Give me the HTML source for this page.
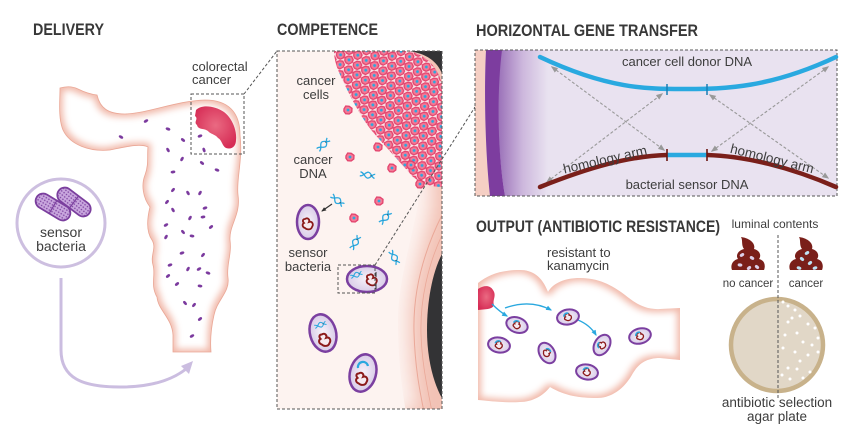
<!DOCTYPE html>
<html><head><meta charset="utf-8">
<style>
html,body{margin:0;padding:0;background:#fff;}
svg{display:block;}
text{font-family:"Liberation Sans",sans-serif;fill:#3d3d3d;}
.t{font-weight:bold;font-size:17px;fill:#383838;}
.l{font-size:13px;}
</style></head><body>
<svg width="851" height="438" viewBox="0 0 851 438" xmlns="http://www.w3.org/2000/svg">
<defs>
 <filter id="inner" x="-10%" y="-10%" width="120%" height="120%">
   <feMorphology operator="erode" radius="3"/>
   <feGaussianBlur stdDeviation="3.5"/>
 </filter>
 <filter id="soft" x="-20%" y="-20%" width="140%" height="140%">
   <feGaussianBlur stdDeviation="9"/>
 </filter>
 <clipPath id="c1"><path id="colon1" d="M60,88 Q70,85 78,89 Q88,94 97,95 C100,108 108,114 125,114 C150,113 175,101 205,100 C228,100 240,112 240,135 C243,160 236,180 238,195 C241,215 229,225 230,240 C232,255 226,265 228,278 C230,292 217,300 214,315 C211,328 210,340 211,352 L173,352 L173,335 C172,318 158,310 157,297 C150,285 156,275 153,265 C150,255 157,248 152,240 C145,230 148,215 150,207 C143,198 141,185 145,175 C149,165 147,155 148,147 C140,143 125,147 110,150 C90,152 70,145 63,130 C58,118 60,100 60,88 Z"/></clipPath>
 <clipPath id="c2"><path id="colon2" d="M478,283 C488,275 500,270 520,270 C532,270 542,276 548,292 C553,283 565,278 580,278 C598,278 612,285 625,295 C635,303 645,310 660,309 L680,308 L680,360 L660,358 C645,358 638,365 633,373 C625,388 612,398 597,398 C580,398 565,396 550,387 C543,396 532,402 520,402 C505,403 490,401 478,400 Z"/></clipPath>
 <clipPath id="cbox"><rect x="277" y="51" width="165" height="358"/></clipPath>
 <clipPath id="hbox"><rect x="475" y="50" width="362" height="146"/></clipPath>
 <radialGradient id="tum" cx="50%" cy="45%" r="60%">
   <stop offset="0" stop-color="#ea6a82"/><stop offset="1" stop-color="#d62c55"/>
 </radialGradient>
 <radialGradient id="bfill" cx="50%" cy="50%" r="55%">
   <stop offset="0" stop-color="#f7f3fa"/><stop offset="1" stop-color="#d6c8e6"/>
 </radialGradient>
 <linearGradient id="memb" x1="0" x2="1" y1="0" y2="0">
   <stop offset="0" stop-color="#9a70b8"/><stop offset="0.5" stop-color="#cdb8dd"/><stop offset="1" stop-color="#e9e2f0"/>
 </linearGradient>
 <pattern id="pdots" width="3" height="3" patternUnits="userSpaceOnUse">
   <rect width="3" height="3" fill="#c9a7de"/><circle cx="1.5" cy="1.5" r="0.8" fill="#7b3f9e"/>
 </pattern>
 <g id="cell">
   <path d="M-3.5,-1 L-2,-3.5 L1,-3.2 L3.5,-1.5 L3.3,1.8 L1,3.5 L-2,3.2 L-3.6,1 Z" fill="#f27a96" stroke="#e3436d" stroke-width="1.2"/>
   <circle r="1.3" fill="#2aa8df"/>
 </g>
 <g id="bcell">
   <path d="M-4,-1.2 L-2.3,-4 L1.2,-3.7 L4,-1.7 L3.8,2 L1.2,4 L-2.3,3.7 L-4.1,1.2 Z" fill="#f27a96" stroke="#e3436d" stroke-width="1.3"/>
   <circle r="1.4" fill="#2aa8df"/>
 </g>
 <pattern id="cells" width="20" height="17" patternUnits="userSpaceOnUse" patternTransform="rotate(-28)">
   <use href="#bcell" x="5" y="4.3"/>
   <use href="#bcell" x="15" y="4.3"/>
   <use href="#bcell" x="0" y="12.7"/>
   <use href="#bcell" x="10" y="12.7"/>
   <use href="#bcell" x="20" y="12.7"/>
 </pattern>
 <g id="dna" fill="none" stroke="#2aa8df" stroke-width="1.3">
   <path d="M-7,-2 C-3,-2 -2,3 1,3 C4,3 5,-2 8,-2"/>
   <path d="M-7,2 C-3,2 -2,-3 1,-3 C4,-3 5,2 8,2"/>
   <path d="M-3,0 L-3,0.1 M4,-0.5 L4,0.5" stroke="#333" stroke-width="1"/>
 </g>
 <path id="chrom" d="M-3,-5 C0,-7 2,-4 1,-2 C4,-3 6,0 4,3 C3,6 -1,6 -3,4 C-6,3 -6,0 -4,-1 C-6,-3 -5,-5 -3,-5 Z" fill="#f6eaf0" stroke="#8b1a1a" stroke-width="1.8"/>
 <g id="sbac">
   <ellipse rx="11" ry="7.5" fill="url(#bfill)" stroke="#7b3fa0" stroke-width="2"/>
   <path d="M-1.5,-3 C0,-4.5 2,-3 1.5,-1.5 C3.5,-1.5 4,1 2.5,2.5 C1.5,4 -1,4 -2.5,2.5 C-4,2 -4,0 -2.5,-0.5 C-3.5,-1.5 -2.5,-3 -1.5,-3 Z" fill="#f6eaf0" stroke="#8b1a1a" stroke-width="1.3"/>
   <path d="M-4,-1 A3.2,3.2 0 0 1 1,-3.5" fill="none" stroke="#2aa8df" stroke-width="1.5"/>
 </g>
 <marker id="ga" viewBox="0 0 10 10" refX="8" refY="5" markerWidth="7" markerHeight="7" orient="auto-start-reverse" markerUnits="userSpaceOnUse">
   <path d="M0,1 L10,5 L0,9 Z" fill="#999"/>
 </marker>
 <marker id="ba" viewBox="0 0 10 10" refX="8" refY="5" markerWidth="6" markerHeight="6" orient="auto" markerUnits="userSpaceOnUse">
   <path d="M0,1 L10,5 L0,9 Z" fill="#2aa8df"/>
 </marker>
 <marker id="ka" viewBox="0 0 10 10" refX="8" refY="5" markerWidth="5" markerHeight="5" orient="auto" markerUnits="userSpaceOnUse">
   <path d="M0,1 L10,5 L0,9 Z" fill="#333"/>
 </marker>
</defs>

<rect width="851" height="438" fill="#fff"/>

<!-- ============ DELIVERY ============ -->
<text class="t" x="33" y="35" textLength="71" lengthAdjust="spacingAndGlyphs">DELIVERY</text>

<use href="#colon1" fill="#f1b9aa"/>
<use href="#colon1" fill="#fff" filter="url(#inner)" clip-path="url(#c1)"/>
<use href="#colon1" fill="none" stroke="#eaa796" stroke-width="0.8"/>

<path d="M196,110 C202,104 215,106 224,112 C232,118 237,130 236,140 C236,146 232,150 226,148 C222,146 222,140 218,138 C215,134 210,134 208,131 C204,128 198,130 197,125 C193,122 199,119 195,116 Z" fill="url(#tum)"/>

<g fill="#7b3a9e">
<ellipse cx="146" cy="121" rx="2.4" ry="1.4" transform="rotate(-30 146 121)"/>
<ellipse cx="121" cy="137" rx="2.4" ry="1.4" transform="rotate(30 121 137)"/>
<ellipse cx="168" cy="129" rx="2.4" ry="1.4" transform="rotate(20 168 129)"/>
<ellipse cx="183" cy="140" rx="2.4" ry="1.4" transform="rotate(40 183 140)"/>
<ellipse cx="200" cy="136" rx="2.4" ry="1.4" transform="rotate(-20 200 136)"/>
<ellipse cx="168" cy="150" rx="2.4" ry="1.4" transform="rotate(60 168 150)"/>
<ellipse cx="182" cy="159" rx="2.4" ry="1.4" transform="rotate(-60 182 159)"/>
<ellipse cx="204" cy="150" rx="2.4" ry="1.4" transform="rotate(70 204 150)"/>
<ellipse cx="202" cy="163" rx="2.4" ry="1.4" transform="rotate(40 202 163)"/>
<ellipse cx="217" cy="170" rx="2.4" ry="1.4" transform="rotate(20 217 170)"/>
<ellipse cx="173" cy="172" rx="2.4" ry="1.4" transform="rotate(-10 173 172)"/>
<ellipse cx="173" cy="190" rx="2.4" ry="1.4" transform="rotate(-50 173 190)"/>
<ellipse cx="188" cy="193" rx="2.4" ry="1.4" transform="rotate(60 188 193)"/>
<ellipse cx="200" cy="193" rx="2.4" ry="1.4" transform="rotate(-60 200 193)"/>
<ellipse cx="167" cy="202" rx="2.4" ry="1.4" transform="rotate(-50 167 202)"/>
<ellipse cx="173" cy="210" rx="2.4" ry="1.4" transform="rotate(60 173 210)"/>
<ellipse cx="205" cy="208" rx="2.4" ry="1.4" transform="rotate(-20 205 208)"/>
<ellipse cx="203" cy="217" rx="2.4" ry="1.4" transform="rotate(-10 203 217)"/>
<ellipse cx="190" cy="218" rx="2.4" ry="1.4" transform="rotate(-60 190 218)"/>
<ellipse cx="211" cy="227" rx="2.4" ry="1.4" transform="rotate(-40 211 227)"/>
<ellipse cx="166" cy="225" rx="2.4" ry="1.4" transform="rotate(-30 166 225)"/>
<ellipse cx="183" cy="232" rx="2.4" ry="1.4" transform="rotate(50 183 232)"/>
<ellipse cx="192" cy="236" rx="2.4" ry="1.4" transform="rotate(10 192 236)"/>
<ellipse cx="166" cy="237" rx="2.4" ry="1.4" transform="rotate(-60 166 237)"/>
<ellipse cx="182" cy="253" rx="2.4" ry="1.4" transform="rotate(-20 182 253)"/>
<ellipse cx="203" cy="255" rx="2.4" ry="1.4" transform="rotate(-50 203 255)"/>
<ellipse cx="170" cy="265" rx="2.4" ry="1.4" transform="rotate(-20 170 265)"/>
<ellipse cx="188" cy="269" rx="2.4" ry="1.4" transform="rotate(-60 188 269)"/>
<ellipse cx="199" cy="269" rx="2.4" ry="1.4" transform="rotate(-30 199 269)"/>
<ellipse cx="208" cy="273" rx="2.4" ry="1.4" transform="rotate(20 208 273)"/>
<ellipse cx="168" cy="276" rx="2.4" ry="1.4" transform="rotate(-40 168 276)"/>
<ellipse cx="177" cy="284" rx="2.4" ry="1.4" transform="rotate(-40 177 284)"/>
<ellipse cx="200" cy="286" rx="2.4" ry="1.4" transform="rotate(10 200 286)"/>
<ellipse cx="185" cy="303" rx="2.4" ry="1.4" transform="rotate(50 185 303)"/>
<ellipse cx="194" cy="305" rx="2.4" ry="1.4" transform="rotate(-50 194 305)"/>
<ellipse cx="200" cy="319" rx="2.4" ry="1.4" transform="rotate(-40 200 319)"/>
<ellipse cx="192" cy="336" rx="2.4" ry="1.4" transform="rotate(-30 192 336)"/>
</g>

<!-- colorectal cancer label + box -->
<text class="l" x="192" y="71">colorectal</text>
<text class="l" x="192" y="84">cancer</text>
<rect x="191" y="94" width="53" height="60" fill="none" stroke="#555" stroke-width="1" stroke-dasharray="3,2"/>
<line x1="244" y1="94" x2="277" y2="51" stroke="#555" stroke-width="1" stroke-dasharray="3,2"/>

<!-- sensor bacteria circle -->
<circle cx="61" cy="223" r="44" fill="#fff" stroke="#cdbfe0" stroke-width="3"/>
<g transform="translate(74,202) rotate(37)">
  <rect x="-19" y="-7.5" width="38" height="15" rx="7.5" fill="url(#pdots)" stroke="#7b3f9e" stroke-width="1.8"/>
  <line x1="0" y1="-7.5" x2="0" y2="7.5" stroke="#7b3f9e" stroke-width="1.2"/>
</g>
<g transform="translate(53,207) rotate(31)">
  <rect x="-19" y="-7.5" width="38" height="15" rx="7.5" fill="url(#pdots)" stroke="#7b3f9e" stroke-width="1.8"/>
  <line x1="0" y1="-7.5" x2="0" y2="7.5" stroke="#7b3f9e" stroke-width="1.2"/>
</g>
<text x="61" y="237" font-size="14" text-anchor="middle">sensor</text>
<text x="61" y="251" font-size="14" text-anchor="middle">bacteria</text>

<path d="M61,278 L61,350 C61,378 82,387 120,387 C150,387 172,380 186,369" fill="none" stroke="#cbbde0" stroke-width="3"/>
<path d="M193,361 L181,366 L189,374 Z" fill="#cbbde0"/>

<!-- ============ COMPETENCE ============ -->
<text class="t" x="277" y="35" textLength="101" lengthAdjust="spacingAndGlyphs">COMPETENCE</text>

<g clip-path="url(#cbox)">
  <rect x="277" y="51" width="165" height="358" fill="#f2c2b5"/>
  <path d="M277,51 L396,51 C414,62 426,84 430,112 L432,205 C424,245 410,285 410,320 C410,360 414,390 418,412 L277,412 Z" fill="#fdf3f0" filter="url(#soft)"/>
  <path d="M277,51 L380,51 C398,62 410,84 414,112 L418,205 C410,245 398,285 398,320 C398,360 402,390 406,412 L277,412 Z" fill="#fdf3f0"/>
  <path d="M442,215 C422,255 413,295 414,332 C415,368 420,392 424,412" fill="none" stroke="#eaa898" stroke-width="1"/>
  <path d="M442,235 C428,265 420,300 421,334 C422,366 428,390 432,412" fill="none" stroke="#eaa898" stroke-width="0.8"/>
  <path d="M408,51 C426,53 438,62 442,74 L446,51 Z" fill="#333335"/>
  <path d="M443,252 C432,272 427,302 427,330 C427,360 434,385 443,400 Z" fill="#333335"/>
  <!-- cluster -->
  <path d="M334,51 L410,51 C428,56 440,70 442,86 L442,187 C430,187 420,183 412,176 C400,162 385,146 372,131 C360,116 350,96 343,81 C338,71 334,61 334,51 Z" fill="#fbe2e6"/>
  <path d="M334,51 L410,51 C428,56 440,70 442,86 L442,187 C430,187 420,183 412,176 C400,162 385,146 372,131 C360,116 350,96 343,81 C338,71 334,61 334,51 Z" fill="url(#cells)"/>
</g>
<rect x="277" y="51" width="165" height="358" fill="none" stroke="#555" stroke-width="1" stroke-dasharray="3,2"/>

<!-- scattered cells -->
<use href="#bcell" x="348" y="110"/>
<use href="#bcell" x="378" y="147"/>
<use href="#bcell" x="350" y="157"/>
<use href="#bcell" x="392" y="168"/>
<use href="#bcell" x="420" y="184"/>
<use href="#bcell" x="379" y="201"/>
<use href="#bcell" x="354" y="218"/>
<use href="#bcell" x="411" y="165"/>

<!-- DNA -->
<use href="#dna" transform="translate(323,145) rotate(-45)"/>
<use href="#dna" transform="translate(367,175) rotate(10)"/>
<use href="#dna" transform="translate(337,200) rotate(40)"/>
<use href="#dna" transform="translate(385,218) rotate(-50)"/>
<use href="#dna" transform="translate(355,243) rotate(-60)"/>
<use href="#dna" transform="translate(394,257) rotate(60)"/>

<text class="l" x="316" y="85" text-anchor="middle">cancer</text>
<text class="l" x="316" y="99" text-anchor="middle">cells</text>
<text class="l" x="313" y="164" text-anchor="middle">cancer</text>
<text class="l" x="313" y="178" text-anchor="middle">DNA</text>
<text class="l" x="308" y="257" text-anchor="middle">sensor</text>
<text class="l" x="308" y="271" text-anchor="middle">bacteria</text>

<line x1="332" y1="204" x2="322" y2="211" stroke="#333" stroke-width="1.2" marker-end="url(#ka)"/>

<!-- bacteria -->
<ellipse cx="308" cy="222" rx="11" ry="17" fill="url(#bfill)" stroke="#7b3fa0" stroke-width="2.5"/>
<use href="#chrom" transform="translate(308,224)"/>

<ellipse cx="367" cy="279" rx="20" ry="13" fill="url(#bfill)" stroke="#7b3fa0" stroke-width="2.5"/>
<use href="#dna" transform="translate(356,275) rotate(-20) scale(0.8)"/>
<use href="#chrom" transform="translate(372,280)"/>
<path d="M376,272 L376,277 M376,284 L376,289" stroke="#333" stroke-width="1"/>
<rect x="338" y="265" width="37" height="28" fill="none" stroke="#555" stroke-width="1" stroke-dasharray="3,2"/>
<line x1="375" y1="265" x2="475" y2="107" stroke="#555" stroke-width="1" stroke-dasharray="3,2"/>

<ellipse cx="323" cy="333" rx="13" ry="19" transform="rotate(-15 323 333)" fill="url(#bfill)" stroke="#7b3fa0" stroke-width="2.5"/>
<use href="#dna" transform="translate(320,325) rotate(-20) scale(0.8)"/>
<use href="#chrom" transform="translate(325,340) scale(1.1)"/>

<ellipse cx="363" cy="373" rx="13" ry="19" transform="rotate(15 363 373)" fill="url(#bfill)" stroke="#7b3fa0" stroke-width="2.5"/>
<path d="M358,368 A5,5 0 0 1 368,366" fill="none" stroke="#2aa8df" stroke-width="2.2"/>
<use href="#chrom" transform="translate(362,379) scale(1.1)"/>

<!-- ============ HGT ============ -->
<text class="t" x="476" y="36" textLength="222" lengthAdjust="spacingAndGlyphs">HORIZONTAL GENE TRANSFER</text>
<g clip-path="url(#hbox)">
  <rect x="475" y="50" width="362" height="146" fill="#e9e2f0"/>
  <path d="M475,50 L486,50 C484,90 485,150 490,196 L475,196 Z" fill="#f5cfc4"/>
  <path d="M501,50 L548,50 L548,196 L505,196 C497,150 496,90 501,50 Z" fill="url(#memb)"/>
  <path d="M486,50 L502,50 C497,90 497,150 505,196 L490,196 C485,150 484,90 486,50 Z" fill="#7d3d9f"/>
</g>
<rect x="475" y="50" width="362" height="146" fill="none" stroke="#555" stroke-width="1" stroke-dasharray="3,2"/>

<g stroke="#999" stroke-width="1.1" stroke-dasharray="3,2" fill="none">
  <line x1="552" y1="67" x2="664" y2="150" marker-start="url(#ga)" marker-end="url(#ga)"/>
  <line x1="547" y1="182" x2="662" y2="94" marker-start="url(#ga)" marker-end="url(#ga)"/>
  <line x1="710" y1="95" x2="828" y2="178" marker-start="url(#ga)" marker-end="url(#ga)"/>
  <line x1="712" y1="151" x2="828" y2="67" marker-start="url(#ga)" marker-end="url(#ga)"/>
</g>

<path d="M540,57 C610,90 650,89 687,89 C724,89 770,88 836,57" fill="none" stroke="#29a9e0" stroke-width="4.5" stroke-linecap="round"/>
<path d="M667,84 L667,95 M707,84 L707,95" stroke="#1b7fb5" stroke-width="1.5"/>
<path d="M540,187 C590,167 630,156 667,155" fill="none" stroke="#7a1f1a" stroke-width="4.5" stroke-linecap="round"/>
<path d="M707,155 C745,156 790,167 836,187" fill="none" stroke="#7a1f1a" stroke-width="4.5" stroke-linecap="round"/>
<path d="M667,155 L707,155" stroke="#29a9e0" stroke-width="4.5"/>
<path d="M667,149 L667,161 M707,149 L707,161" stroke="#6a1510" stroke-width="1.6"/>

<text class="l" x="687" y="66" text-anchor="middle">cancer cell donor DNA</text>
<text class="l" x="687" y="189" text-anchor="middle">bacterial sensor DNA</text>
<text font-size="13.5" transform="translate(606,164) rotate(-13)" text-anchor="middle">homology arm</text>
<text font-size="13.5" transform="translate(771,163) rotate(14)" text-anchor="middle">homology arm</text>

<!-- ============ OUTPUT ============ -->
<text class="t" x="476" y="232" textLength="244" lengthAdjust="spacingAndGlyphs">OUTPUT (ANTIBIOTIC RESISTANCE)</text>
<text class="l" x="547" y="257">resistant to</text>
<text class="l" x="547" y="270">kanamycin</text>

<use href="#colon2" fill="#f1b9aa"/>
<use href="#colon2" fill="#fff" filter="url(#inner)" clip-path="url(#c2)"/>
<path d="M478,289 C484,285 490,285 493,290 C497,296 492,300 494,305 C492,310 485,309 478,310 Z" fill="url(#tum)"/>

<g fill="none" stroke="#2aa8df" stroke-width="1.3">
  <path d="M492,304 Q500,312 507,316" marker-end="url(#ba)"/>
  <path d="M505,308 Q530,299 551,310" marker-end="url(#ba)"/>
  <path d="M578,320 Q590,325 596,335" marker-end="url(#ba)"/>
</g>
<use href="#sbac" transform="translate(517,325) rotate(20)"/>
<use href="#sbac" transform="translate(568,317) rotate(-10)"/>
<use href="#sbac" transform="translate(499,345) rotate(10)"/>
<use href="#sbac" transform="translate(602,345) rotate(-60)"/>
<use href="#sbac" transform="translate(640,336) rotate(-15)"/>
<use href="#sbac" transform="translate(547,353) rotate(60)"/>
<use href="#sbac" transform="translate(587,372) rotate(10)"/>

<!-- luminal contents -->
<text x="775" y="228" font-size="12" text-anchor="middle">luminal contents</text>
<path d="M-16,0 C-18,-5 -15,-10 -10,-11 C-13,-15 -9,-20 -4,-21 C-7,-25 -5,-30 -7,-33 C1,-32 8,-27 6,-21 C11,-20 14,-15 11,-11 C16,-10 18,-5 16,0 Z" transform="translate(748,270)" fill="#7a1f1a"/>
<path d="M-16,0 C-18,-5 -15,-10 -10,-11 C-13,-15 -9,-20 -4,-21 C-7,-25 -5,-30 -7,-33 C1,-32 8,-27 6,-21 C11,-20 14,-15 11,-11 C16,-10 18,-5 16,0 Z" transform="translate(806,270)" fill="#7a1f1a"/>
<g fill="#dcd0ea">
  <ellipse cx="742" cy="255" rx="2.4" ry="1.6" transform="rotate(-30 742 255)"/>
  <ellipse cx="752" cy="258" rx="2.4" ry="1.6" transform="rotate(30 752 258)"/>
  <ellipse cx="740" cy="265" rx="2.4" ry="1.6" transform="rotate(10 740 265)"/>
  <ellipse cx="749" cy="268" rx="2.4" ry="1.6" transform="rotate(-40 749 268)"/>
  <ellipse cx="757" cy="267" rx="2.4" ry="1.6" transform="rotate(40 757 267)"/>
</g>
<g fill="#bfe3f5">
  <ellipse cx="807" cy="253" rx="2.4" ry="1.6" transform="rotate(-30 807 253)"/>
  <ellipse cx="802" cy="259" rx="2.4" ry="1.6" transform="rotate(40 802 259)"/>
  <ellipse cx="810" cy="263" rx="2.4" ry="1.6" transform="rotate(-40 810 263)"/>
  <ellipse cx="799" cy="268" rx="2.4" ry="1.6" transform="rotate(20 799 268)"/>
  <ellipse cx="815" cy="268" rx="2.4" ry="1.6" transform="rotate(-20 815 268)"/>
</g>
<text x="748" y="287" font-size="11.5" text-anchor="middle">no cancer</text>
<text x="806" y="287" font-size="11.5" text-anchor="middle">cancer</text>

<circle cx="777" cy="345" r="46" fill="#e1d7c7" stroke="#c8b28b" stroke-width="4.5"/>
<g fill="#fff">
  <circle cx="783" cy="302" r="1.5"/><circle cx="788" cy="306" r="1.5"/><circle cx="795" cy="310" r="1.5"/>
  <circle cx="788" cy="322" r="1.5"/><circle cx="800" cy="316" r="1.5"/><circle cx="815" cy="328" r="1.5"/>
  <circle cx="785" cy="335" r="1.5"/><circle cx="797" cy="333" r="1.5"/><circle cx="803" cy="342" r="1.5"/>
  <circle cx="818" cy="338" r="1.5"/><circle cx="783" cy="348" r="1.5"/><circle cx="795" cy="352" r="1.5"/>
  <circle cx="808" cy="355" r="1.5"/><circle cx="800" cy="361" r="1.5"/><circle cx="818" cy="352" r="1.5"/>
  <circle cx="788" cy="368" r="1.5"/><circle cx="797" cy="369" r="1.5"/><circle cx="810" cy="372" r="1.5"/>
  <circle cx="790" cy="379" r="1.5"/><circle cx="803" cy="378" r="1.5"/><circle cx="782" cy="375" r="1.5"/>
  <circle cx="792" cy="318" r="1.5"/><circle cx="808" cy="324" r="1.5"/><circle cx="812" cy="345" r="1.5"/>
</g>
<line x1="778" y1="235" x2="778" y2="398" stroke="#555" stroke-width="1" stroke-dasharray="3,2"/>
<text x="777" y="407" font-size="13.5" text-anchor="middle">antibiotic selection</text>
<text x="777" y="421" font-size="13.5" text-anchor="middle">agar plate</text>
</svg>
</body></html>
